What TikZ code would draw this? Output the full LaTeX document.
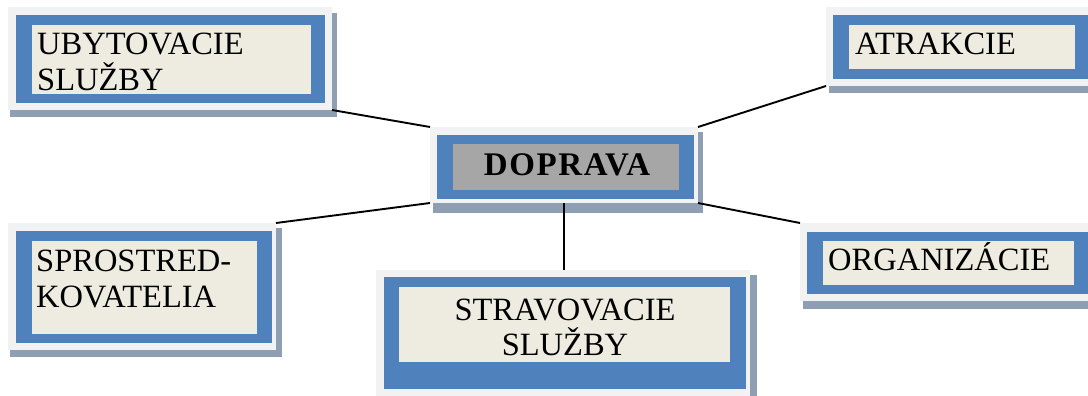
\documentclass[tikz,border=0pt]{standalone}
\usepackage{fontspec}
\setmainfont{Liberation Serif}
\definecolor{frameC}{HTML}{F2F2F2}
\definecolor{blueC}{HTML}{4F81BD}
\definecolor{beigeC}{HTML}{EEECE1}
\definecolor{grayC}{HTML}{A6A6A6}
\definecolor{shadowC}{HTML}{8F9FB3}
\begin{document}
\begin{tikzpicture}[x=1pt,y=-1pt,
  frame/.style={fill=frameC, draw=none, inner sep=0, outer sep=0},
  label/.style={inner sep=0, font=\fontsize{32.5}{36}\selectfont, text=black},
  link/.style={draw=black, line width=1.9pt}]
\path[use as bounding box] (0,0) rectangle (1088,396);
\clip (0,0) rectangle (1088,396);

% UBYTOVACIE SLUZBY
\fill[shadowC] (10,13) rectangle (337,117);
\node[frame, minimum width=324, minimum height=103] (u) at (170,58.5) {};
\fill[blueC] (16,15) rectangle (325,103);
\fill[beigeC] (32,25) rectangle (311,94);
\node[label, anchor=base west] (u1) at (37,55) {UBYTOVACIE};
\node[label, anchor=base west] (u2) at (37,91) {SLUŽBY};

% DOPRAVA
\fill[shadowC] (433,132) rectangle (703,213);
\node[frame, minimum width=268, minimum height=76] (d) at (564,165) {};
\fill[blueC] (437,135) rectangle (694,199);
\fill[grayC] (453,144) rectangle (679,190);
\node[label, anchor=base, font=\fontsize{33}{36}\selectfont\bfseries\addfontfeature{LetterSpace=5}] (d1) at (567,175) {DOPRAVA};

% ATRAKCIE
\fill[shadowC] (829,12) rectangle (1095,93);
\node[frame, minimum width=269, minimum height=79] (a) at (960.5,46.5) {};
\fill[blueC] (833,15) rectangle (1095,79);
\fill[beigeC] (849,25) rectangle (1075,69);
\node[label, anchor=base west] (a1) at (855,55) {ATRAKCIE};

% SPROSTREDKOVATELIA
\fill[shadowC] (10,228) rectangle (282,357);
\node[frame, minimum width=268, minimum height=127] (s) at (142,286.5) {};
\fill[blueC] (16,231) rectangle (272,343);
\fill[beigeC] (32,241) rectangle (257,334);
\node[label, anchor=base west] (s1) at (36,271) {SPROSTRED-};
\node[label, anchor=base west] (s2) at (36,307) {KOVATELIA};

% STRAVOVACIE SLUZBY
\fill[shadowC] (379,275) rectangle (757,400);
\node[frame, minimum width=374, minimum height=130] (st) at (563,335) {};
\fill[blueC] (384,277) rectangle (746,389);
\fill[beigeC] (399,287) rectangle (730,362);
\node[label, anchor=base] (st1) at (565,320) {STRAVOVACIE};
\node[label, anchor=base] (st2) at (565,355) {SLUŽBY};

% ORGANIZACIE
\fill[shadowC] (803,228) rectangle (1095,309);
\node[frame, minimum width=295, minimum height=78] (o) at (947.5,262) {};
\fill[blueC] (807,232) rectangle (1095,294);
\fill[beigeC] (823,241) rectangle (1074,285);
\node[label, anchor=base west] (o1) at (828,270) {ORGANIZÁCIE};

% connectors
\draw[link] (u.south east) -- (d.north west);
\draw[link] (a.south west) -- (d.north east);
\draw[link] (s.north east) -- (d.south west);
\draw[link] (o.north west) -- (d.south east);
\draw[link] (d.south) -- (d.south |- st.north);
\end{tikzpicture}
\end{document}
